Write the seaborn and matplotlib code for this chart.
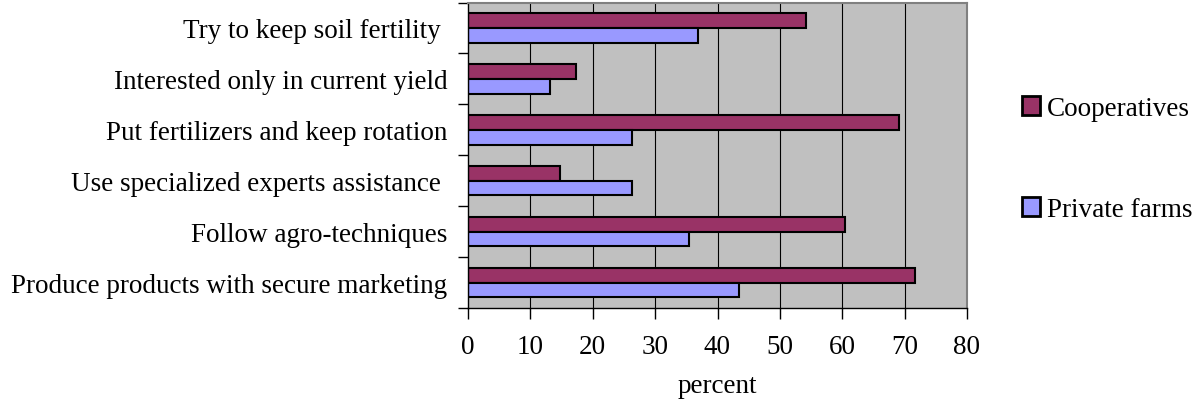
import matplotlib
matplotlib.use("Agg")
import matplotlib.pyplot as plt
import seaborn as sns
import pandas as pd
import numpy as np
from matplotlib.patches import Patch

categories = ["Try to keep soil fertility ",
              "Interested only in current yield",
              "Put fertilizers and keep rotation",
              "Use specialized experts assistance ",
              "Follow agro-techniques",
              "Produce products with secure marketing"]
cooperatives = [54.2, 17.3, 69.1, 14.8, 60.5, 71.6]
private_farms = [36.8, 13.2, 26.3, 26.3, 35.5, 43.4]
series = ["Cooperatives", "Private farms"]
colors = ["#993366", "#9999FF"]
x_ticks = [0, 10, 20, 30, 40, 50, 60, 70, 80]

df = pd.DataFrame({
    "category": categories * 2,
    "value": cooperatives + private_farms,
    "series": [series[0]] * len(categories) + [series[1]] * len(categories),
})

sns.set_style("white")
plt.rcParams['font.family'] = ['Liberation Serif', 'DejaVu Serif']
plt.rcParams['text.color'] = 'black'
plt.rcParams['xtick.color'] = 'black'
plt.rcParams['ytick.color'] = 'black'
plt.rcParams['axes.labelcolor'] = 'black'

FS = 19.5

fig = plt.figure(figsize=(11.94, 4.10), dpi=100)
ax = fig.add_axes([468/1194, 1 - 309/410, (967-468)/1194, (309-3.5)/410])

sns.barplot(data=df, y="category", x="value", hue="series", order=categories,
            hue_order=series, palette=colors, orient="h", width=0.58,
            edgecolor="black", linewidth=1.5, ax=ax, legend=False, saturation=1)

ax.set_facecolor("#C0C0C0")
ax.set_xlim(0, 80)
ax.set_ylim(len(categories) - 0.5, -0.5)
ax.set_xticks(x_ticks)
ax.set_xticklabels([str(t) for t in x_ticks], fontsize=FS)
for t in x_ticks[1:-1]:
    ax.axvline(t, color="black", linewidth=0.8, zorder=0.5)

# y ticks: marks at boundaries, labels at centers
ax.set_yticks(np.arange(-0.5, len(categories), 1.0))
ax.set_yticklabels([])
ax.set_yticks(np.arange(len(categories)), minor=True)
ax.set_yticklabels(categories, minor=True, fontsize=FS)
ax.tick_params(axis="y", which="major", direction="out", length=7, width=1, color="black", left=True)
ax.tick_params(axis="y", which="minor", length=0, pad=15)
ax.tick_params(axis="x", direction="out", length=8, width=1, color="black", bottom=True, pad=11)

for side in ["top", "right"]:
    ax.spines[side].set_color("#808080")
    ax.spines[side].set_linewidth(1.5)
ax.spines["left"].set_color("black")
ax.spines["bottom"].set_color("black")
ax.spines["left"].set_linewidth(1)
ax.spines["bottom"].set_linewidth(1)

ax.set_ylabel("")
ax.set_xlabel("percent", fontsize=FS, labelpad=10)

handles = [Patch(facecolor=c, edgecolor="black", linewidth=2) for c in colors]
fig.legend(handles, series, loc="center left", bbox_to_anchor=(1022/1194, 1 - 160/410),
           frameon=False, fontsize=FS, handlelength=0.67, handleheight=0.67,
           handletextpad=0.26, labelspacing=2.8, borderaxespad=0, borderpad=0)

fig.savefig("out.png", dpi=100)
